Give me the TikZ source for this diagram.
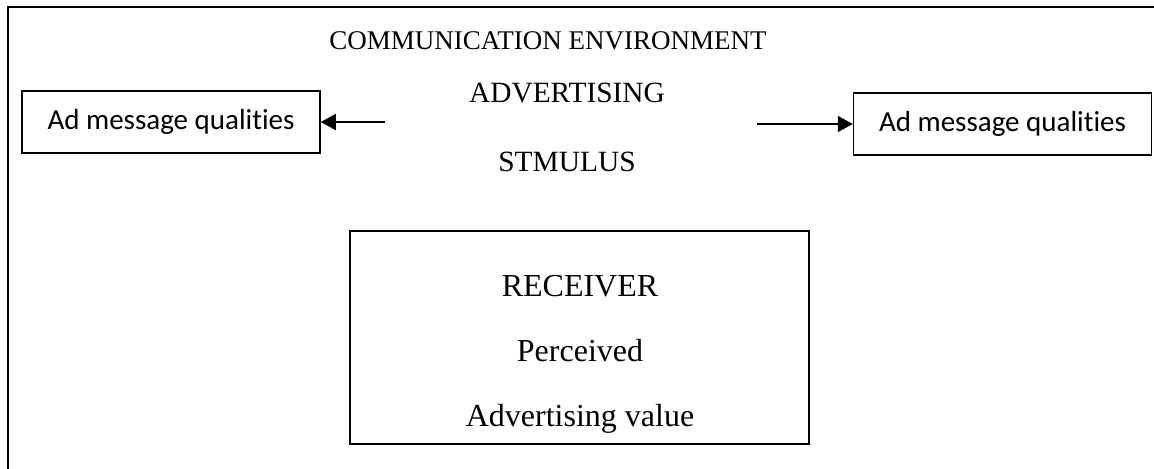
\documentclass[tikz,border=0pt]{standalone}
\usepackage{fontspec}
\setmainfont{Liberation Serif}
\newfontfamily\calibri[Ligatures=NoCommon]{Carlito}
\usetikzlibrary{arrows.meta,positioning}

\begin{document}
\begin{tikzpicture}[x=0.5pt, y=-0.5pt, line width=0.75pt,
    qualbox/.style={draw, rectangle, minimum width=149pt, minimum height=31pt, inner sep=0pt, font=\calibri\fontsize{14.5}{17}\selectfont},
    heading/.style={anchor=base, inner sep=0pt, font=\fontsize{14.7}{17}\selectfont},
    recvtext/.style={anchor=base, inner sep=0pt, font=\fontsize{16}{19}\selectfont},
    tip/.style={-{Triangle[length=7.5pt, width=8pt]}}]
    \useasboundingbox (0,0) rectangle (1154,469);

    % Environment frame (open to the right and below)
    \draw (1160,7) -- (8,7) -- (8,475);

    % Stimulus
    \node[heading, font=\fontsize{13.5}{16}\selectfont] (env) at (548,50) {COMMUNICATION ENVIRONMENT};
    \node[heading] (advert) at (567,103) {ADVERTISING};
    \node[heading] (stimulus) at (567,172) {STMULUS};

    % Message qualities
    \node[qualbox] (leftq) at (171,122) {Ad message qualities};
    \node[qualbox] (rightq) at (1002.5,124) {Ad message qualities};

    \coordinate (leftstart) at (385,122);
    \coordinate (rightstart) at (757,124);
    \draw[tip] (leftstart) -- (leftq);
    \draw[tip] (rightstart) -- (rightq);

    % Receiver
    \node[draw, rectangle, minimum width=229.5pt, minimum height=106.5pt, inner sep=0pt] (receiver) at (579.5,337.5) {};
    \node[recvtext] (recvtitle) at (580,297) {RECEIVER};
    \node[recvtext] (perceived) at (580,362) {Perceived};
    \node[recvtext] (advvalue) at (580,426) {Advertising value};
\end{tikzpicture}
\end{document}
